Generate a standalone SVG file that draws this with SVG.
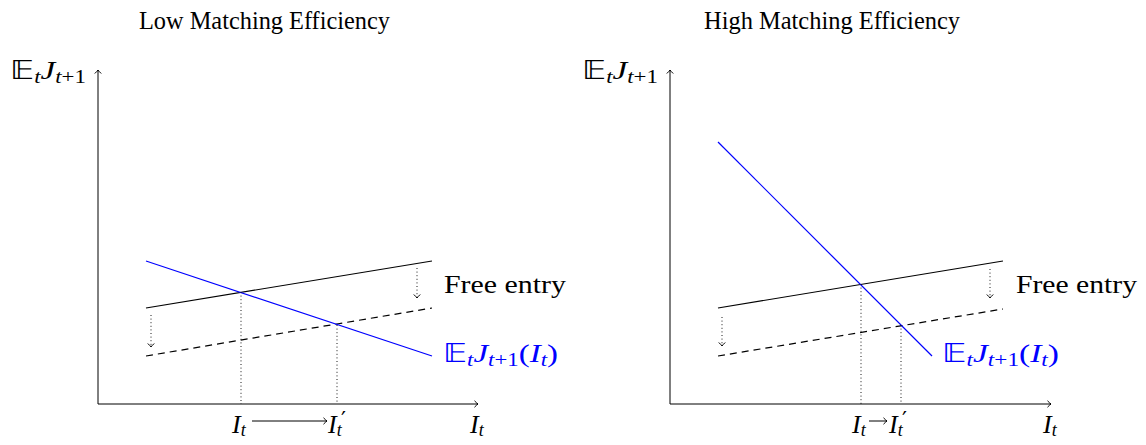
<svg xmlns="http://www.w3.org/2000/svg" width="1146" height="445" viewBox="0 0 1146 445">
<style>
text{font-family:"Liberation Serif","Times New Roman",serif;fill:#000}
.title{font-size:25px}
.lab{font-size:26px}
.it{font-style:italic}
.sub{font-size:18px}
.pr{font-size:22px;font-style:normal;font-family:"DejaVu Serif",serif}
.blue{fill:#0000ff}
.ax{stroke:#000;stroke-width:1;fill:none}
.sol{stroke:#000;stroke-width:1.2;fill:none}
.dash{stroke:#000;stroke-width:1.2;fill:none;stroke-dasharray:7 5}
.bl{stroke:#0000ff;stroke-width:1.2;fill:none}
.dot{stroke:#000;stroke-width:0.9;fill:none;stroke-dasharray:1 2.6}
.thin{stroke:#000;stroke-width:1;fill:none}
</style>
<defs>
<marker id="arr" viewBox="-6 -5 7 10" refX="0" refY="0" markerWidth="7" markerHeight="10" markerUnits="userSpaceOnUse" orient="auto">
<path d="M-3.5,-3.2 Q-1.2,-0.8 0,0 Q-1.2,0.8 -3.5,3.2" fill="none" stroke="#000" stroke-width="1"/>
</marker>
</defs>

<g id="panel-low">
<text id="title-low" class="title" x="139" y="29" textLength="251" lengthAdjust="spacingAndGlyphs">Low Matching Efficiency</text>
<g id="axes-low">
<line class="ax" x1="98" y1="404" x2="98" y2="70" marker-end="url(#arr)"/>
<line class="ax" x1="98" y1="404" x2="478" y2="404" marker-end="url(#arr)"/>
<text class="lab" x="10" y="79" textLength="76" lengthAdjust="spacingAndGlyphs">𝔼<tspan class="sub it" dy="4">t</tspan><tspan class="it" dy="-4">J</tspan><tspan class="sub" dy="4"><tspan class="it">t</tspan>+1</tspan></text>
<text class="lab it" x="470" y="433">I<tspan class="sub" dy="3">t</tspan></text>
</g>
<g id="connectors-low">
<line class="sol" x1="146" y1="308" x2="432" y2="261"/>
<line class="dash" x1="146" y1="356" x2="432" y2="308"/>
<line class="bl" x1="146" y1="261" x2="432" y2="356"/>
<line class="dot" x1="241" y1="292" x2="241" y2="404"/>
<line class="dot" x1="337" y1="325" x2="337" y2="404"/>
<line class="dot" x1="151" y1="315" x2="151" y2="347" marker-end="url(#arr)"/>
<line class="dot" x1="417" y1="268" x2="417" y2="298" marker-end="url(#arr)"/>
<line class="thin" x1="252" y1="421" x2="327" y2="421" marker-end="url(#arr)"/>
</g>
<text class="lab" x="444" y="293" textLength="122" lengthAdjust="spacingAndGlyphs">Free entry</text>
<text class="lab blue" x="443" y="362" textLength="115" lengthAdjust="spacingAndGlyphs">𝔼<tspan class="sub it" dy="4">t</tspan><tspan class="it" dy="-4">J</tspan><tspan class="sub" dy="4"><tspan class="it">t</tspan>+1</tspan><tspan dy="-4">(</tspan><tspan class="it">I</tspan><tspan class="sub it" dy="4">t</tspan><tspan dy="-4">)</tspan></text>
<text class="lab it" x="232" y="433">I<tspan class="sub" dy="3">t</tspan></text>
<text class="lab it" x="328" y="433">I<tspan class="sub" dy="3">t</tspan></text>
<text class="pr" x="341" y="427">′</text>
</g>

<g id="panel-high">
<text id="title-high" class="title" x="704" y="29" textLength="256" lengthAdjust="spacingAndGlyphs">High Matching Efficiency</text>
<g id="axes-high">
<line class="ax" x1="670" y1="404" x2="670" y2="70" marker-end="url(#arr)"/>
<line class="ax" x1="670" y1="404" x2="1051" y2="404" marker-end="url(#arr)"/>
<text class="lab" x="582" y="79" textLength="76" lengthAdjust="spacingAndGlyphs">𝔼<tspan class="sub it" dy="4">t</tspan><tspan class="it" dy="-4">J</tspan><tspan class="sub" dy="4"><tspan class="it">t</tspan>+1</tspan></text>
<text class="lab it" x="1043" y="433">I<tspan class="sub" dy="3">t</tspan></text>
</g>
<g id="connectors-high">
<line class="sol" x1="718" y1="308" x2="1003" y2="261"/>
<line class="dash" x1="718" y1="356" x2="1003" y2="309"/>
<line class="bl" x1="718" y1="142" x2="932" y2="356"/>
<line class="dot" x1="861" y1="284" x2="861" y2="404"/>
<line class="dot" x1="901" y1="325" x2="901" y2="404"/>
<line class="dot" x1="722" y1="317" x2="722" y2="346" marker-end="url(#arr)"/>
<line class="dot" x1="990" y1="269" x2="990" y2="298" marker-end="url(#arr)"/>
<line class="thin" x1="869" y1="421" x2="887" y2="421" marker-end="url(#arr)"/>
</g>
<text class="lab" x="1016" y="293" textLength="121" lengthAdjust="spacingAndGlyphs">Free entry</text>
<text class="lab blue" x="942" y="362" textLength="117" lengthAdjust="spacingAndGlyphs">𝔼<tspan class="sub it" dy="4">t</tspan><tspan class="it" dy="-4">J</tspan><tspan class="sub" dy="4"><tspan class="it">t</tspan>+1</tspan><tspan dy="-4">(</tspan><tspan class="it">I</tspan><tspan class="sub it" dy="4">t</tspan><tspan dy="-4">)</tspan></text>
<text class="lab it" x="852" y="433">I<tspan class="sub" dy="3">t</tspan></text>
<text class="lab it" x="889" y="433">I<tspan class="sub" dy="3">t</tspan></text>
<text class="pr" x="902" y="427">′</text>
</g>
</svg>
